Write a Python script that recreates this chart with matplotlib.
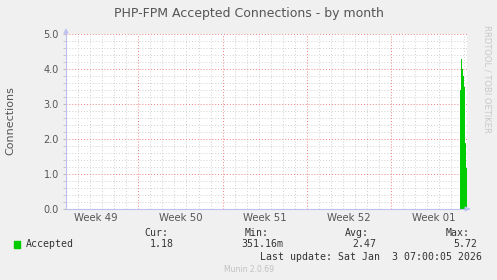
import numpy as np
import matplotlib
matplotlib.use("Agg")
import matplotlib.pyplot as plt

# time axis in days since Sun Nov 30 00:00 -> graph starts Dec 1 00:00
x_start = 1.0
x_end = 34.29  # Sat Jan 3 07:00
week_lines = [7, 14, 21, 28]
week_labels = ["Week 49", "Week 50", "Week 51", "Week 52", "Week 01"]
week_label_pos = [3.5, 10.5, 17.5, 24.5, 31.5]

# 2-hour samples of accepted connections (only the last ~14h have data)
sample_t = [33.71, 33.79, 33.88, 33.96, 34.04, 34.13, 34.21]
sample_v = [3.4, 4.3, 4.0, 3.8, 3.5, 1.9, 1.18]

yticks = [0.0, 1.0, 2.0, 3.0, 4.0, 5.0]

legend_name = "Accepted"
cur, vmin, avg, vmax = "1.18", "351.16m", "2.47", "5.72"

W, H = 497, 280
fig = plt.figure(figsize=(W / 100, H / 100), dpi=100, facecolor="#F0F0F0")

left, right, top, bottom = 66, 467, 34, 209
ax = fig.add_axes([left / W, 1 - bottom / H, (right - left) / W, (bottom - top) / H])
ax.set_facecolor("white")
ax.set_xlim(x_start, x_end)
ax.set_ylim(0, 5.0)

# grid
for d in range(2, 35):
    if d in week_lines:
        continue
    ax.axvline(d, color="#D0D0D0", lw=0.7, ls=(0, (1, 2)), zorder=1)
for y in np.arange(0.2, 5.0, 0.2):
    if abs(y - round(y)) < 1e-6:
        continue
    ax.axhline(y, color="#D0D0D0", lw=0.7, ls=(0, (1, 2)), zorder=1)
for d in week_lines:
    ax.axvline(d, color="#F08080", lw=0.7, ls=(0, (1, 2)), zorder=1)
for y in yticks[1:]:
    ax.axhline(y, color="#F08080", lw=0.7, ls=(0, (1, 2)), zorder=1)

# data area
t = list(sample_t) + [x_end]
v = list(sample_v) + [sample_v[-1]]
ax.fill_between(t, 0, v, step="post", color="#00CC00", lw=0, zorder=3)

for s in ["top", "right"]:
    ax.spines[s].set_visible(False)
for s in ["left", "bottom"]:
    ax.spines[s].set_color("#C0C0F0")
    ax.spines[s].set_linewidth(0.8)
    ax.spines[s].set_zorder(4)

# axis arrows
ax.annotate("", xy=(x_end + 0.5, 0), xytext=(x_end - 0.1, 0),
            arrowprops=dict(arrowstyle="-|>", color="#C0C0F0", lw=0.8,
                            mutation_scale=7), annotation_clip=False)
ax.annotate("", xy=(x_start, 5.25), xytext=(x_start, 4.9),
            arrowprops=dict(arrowstyle="-|>", color="#C0C0F0", lw=0.8,
                            mutation_scale=7), annotation_clip=False)

ax.set_yticks(yticks)
ax.set_yticklabels([f"{y:.1f}" for y in yticks])
ax.set_yticks(np.arange(0, 5.01, 0.2), minor=True)
ax.tick_params(axis="y", which="both", length=2, color="#C0C0C0", labelsize=7,
               labelcolor="#555555", pad=3)
ax.set_xticks(week_label_pos)
ax.set_xticklabels(week_labels)
ax.tick_params(axis="x", length=0, labelsize=7.3, labelcolor="#555555", pad=3)

fig.text(0.5, 1 - 13 / H, "PHP-FPM Accepted Connections - by month",
         ha="center", va="center", fontsize=9, color="#555555")
fig.text(10 / W, 1 - 121 / H, "Connections", rotation=90, ha="center",
         va="center", fontsize=8, color="#555555")
fig.text(487 / W, 1 - 25 / H, "RRDTOOL / TOBI OETIKER", rotation=270,
         ha="center", va="top", fontsize=6, color="#C8C8C8")

mono = dict(family="DejaVu Sans Mono", fontsize=7.1, color="#333333")


def ftext(px, py, s, ha="left", **kw):
    fig.text(px / W, 1 - py / H, s, ha=ha, va="center", **kw)


ftext(168, 233, "Cur:", ha="right", **mono)
ftext(269, 233, "Min:", ha="right", **mono)
ftext(369, 233, "Avg:", ha="right", **mono)
ftext(470, 233, "Max:", ha="right", **mono)

fig.patches.append(plt.Rectangle((14 / W, 1 - 248 / H), 6 / W, 7 / H,
                                 transform=fig.transFigure, color="#00CC00"))
ftext(26, 244, legend_name, **mono)
ftext(174, 244, cur, ha="right", **mono)
ftext(283, 244, vmin, ha="right", **mono)
ftext(376, 244, avg, ha="right", **mono)
ftext(477, 244, vmax, ha="right", **mono)
ftext(482, 257, "Last update: Sat Jan  3 07:00:05 2026", ha="right", **mono)
ftext(249, 269, "Munin 2.0.69", ha="center", fontsize=5.5, color="#C0C0C0")

fig.savefig("out.png", dpi=100, facecolor=fig.get_facecolor())
